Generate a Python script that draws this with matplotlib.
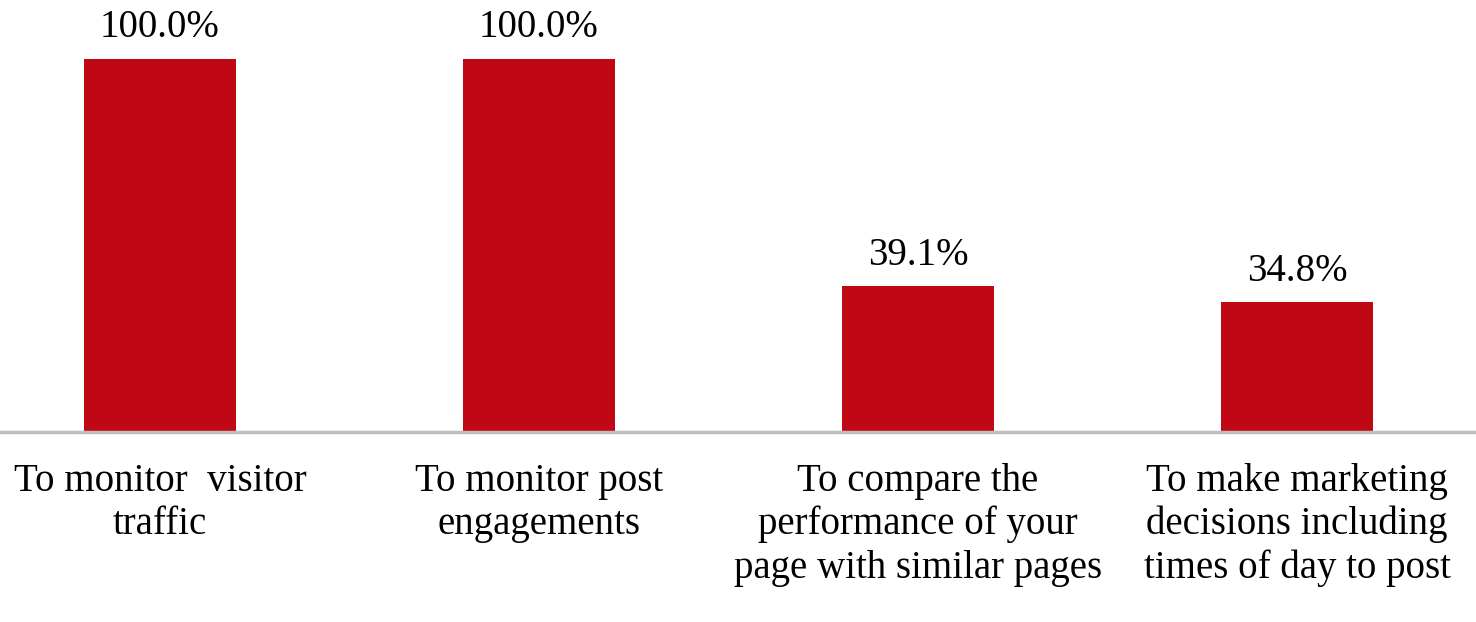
import matplotlib
matplotlib.use('Agg')
import matplotlib.pyplot as plt

# データ
categories = [
    'To monitor  visitor\ntraffic',
    'To monitor post\nengagements',
    'To compare the\nperformance of your\npage with similar pages',
    'To make marketing\ndecisions including\ntimes of day to post',
]
values = [100.0, 100.0, 39.1, 34.8]

plt.rcParams['font.family'] = ['Liberation Serif', 'DejaVu Serif']

fig = plt.figure(figsize=(14.76, 6.22), dpi=100)
ax = fig.add_axes([0, 190 / 622, 1, 432 / 622])

x = range(len(values))
ax.bar(x, values, width=0.4, color='#C00714')

for xi, v in zip(x, values):
    ax.annotate(f'{v:.1f}%', (xi, v), xytext=(0, 9), textcoords='offset points',
                ha='center', va='bottom', fontsize=28)

ax.set_xlim(-0.422, 3.472)
ax.set_ylim(0, 115.8)
ax.set_xticks(list(x))
ax.set_xticklabels(categories, fontsize=28, linespacing=1.22)
ax.tick_params(axis='x', length=0, pad=22)
ax.set_yticks([])

for s in ['top', 'right', 'left']:
    ax.spines[s].set_visible(False)
ax.spines['bottom'].set_color('#BFBFBF')
ax.spines['bottom'].set_linewidth(2.5)

fig.savefig('out.png', dpi=100)
